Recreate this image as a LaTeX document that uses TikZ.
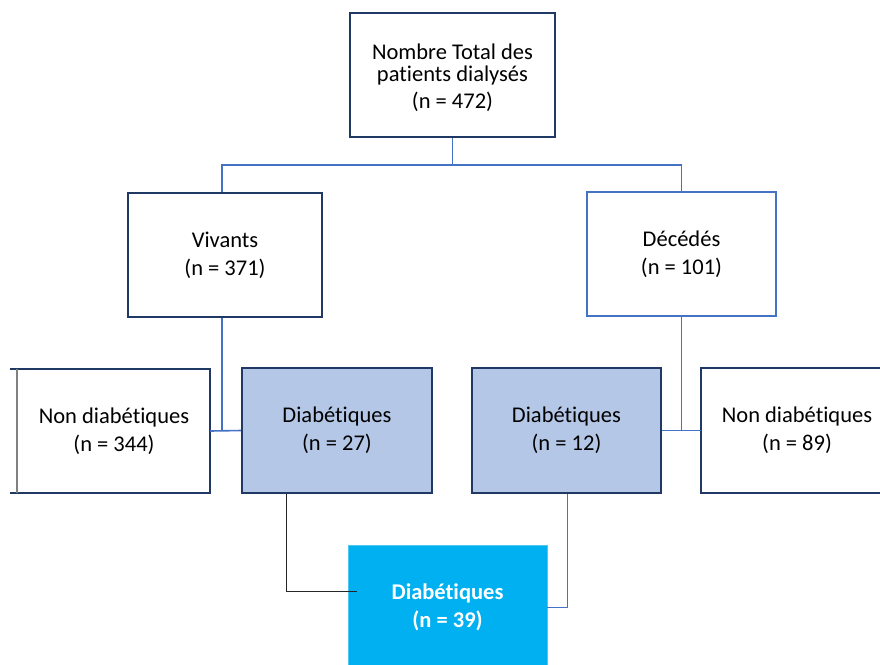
\documentclass[tikz,border=0pt]{standalone}
\usepackage{fontspec}
\setmainfont[Ligatures=NoCommon]{Carlito}
\definecolor{navy}{HTML}{203864}
\definecolor{midblue}{HTML}{4472C4}
\definecolor{lightfill}{HTML}{B4C7E7}
\definecolor{cyanfill}{HTML}{00B0F0}
\definecolor{darkline}{HTML}{262626}
\begin{document}
\begin{tikzpicture}[x=1pt,y=-1pt,
  box/.style={rectangle,draw=navy,line width=1.7pt,minimum height=124pt,inner sep=0pt,align=center,font=\fontsize{22.5}{28}\selectfont},
  openbox/.style={rectangle,minimum height=124pt,inner sep=0pt,align=center,font=\fontsize{22.5}{28}\selectfont},
  diabox/.style={box,fill=lightfill,minimum height=125pt},
  conn/.style={draw=midblue,line width=1.6pt},
  darkconn/.style={draw=darkline,line width=0.8pt}]
\useasboundingbox (0,0) rectangle (880,664);
% boxes
\node[box,minimum width=205pt,minimum height=124pt] (top) at (452.5,75) {};
\node[align=center,inner sep=0pt,font=\fontsize{22.5}{22}\selectfont] (toptext) at ([yshift=-3pt]top.center) {Nombre Total des\\patients dialysés\\[5pt](n = 472)};
\node[box,minimum width=194pt] (viv) at (225,255) {Vivants\\(n = 371)};
\node[box,draw=midblue,minimum width=189pt] (dec) at (681.5,254) {Décédés\\(n = 101)};
\node[openbox,minimum width=192pt] (nd1) at (114,431) {Non diabétiques\\(n = 344)};
\node[diabox,minimum width=190pt] (d27) at (337,430.5) {Diabétiques\\(n = 27)};
\node[diabox,minimum width=189pt] (d12) at (566.5,430.5) {Diabétiques\\(n = 12)};
\node[openbox,minimum width=192pt] (nd2) at (797,430.5) {Non diabétiques\\(n = 89)};
\node[rectangle,fill=cyanfill,draw=cyanfill!70!white,line width=0.8pt,minimum width=199pt,minimum height=125pt,inner sep=0pt,align=center,text=white,font=\fontsize{22.5}{28}\selectfont\bfseries] (bot) at (447.5,607.5) {Diabétiques\\(n = 39)};
% partial borders of cut boxes
\draw[navy,line width=1.7pt] ([xshift=-8pt]nd1.north west) -- (nd1.north east) -- (nd1.south east) -- ([xshift=-8pt]nd1.south west);
\draw[gray,line width=1.5pt] ([xshift=-1pt]nd1.north west) -- ([xshift=-1pt]nd1.south west);
\draw[navy,line width=1.7pt] (nd2.north east) -- (nd2.north west) -- (nd2.south west) -- (nd2.south east);
% connectors
\coordinate (split) at (452.5,165);
\draw[conn] (top.south) -- (split);
\draw[conn] (split) -| ([xshift=-3pt]viv.north);
\draw[conn] (split) -| (dec.north);
\draw[conn] ([xshift=-3pt]viv.south) -- ([xshift=-3pt]viv.south |- d27.west);
\draw[conn] (nd1.east) -- (d27.west);
\draw[conn] (dec.south) -- (dec.south |- d12.east);
\draw[conn] (d12.east) -- (nd2.west);
\coordinate (c1) at (357,591);
\draw[darkconn] ([xshift=-51pt]d27.south) |- (c1);
\draw[conn] ([xshift=1pt]d12.south) |- (bot.east);
\end{tikzpicture}
\end{document}
